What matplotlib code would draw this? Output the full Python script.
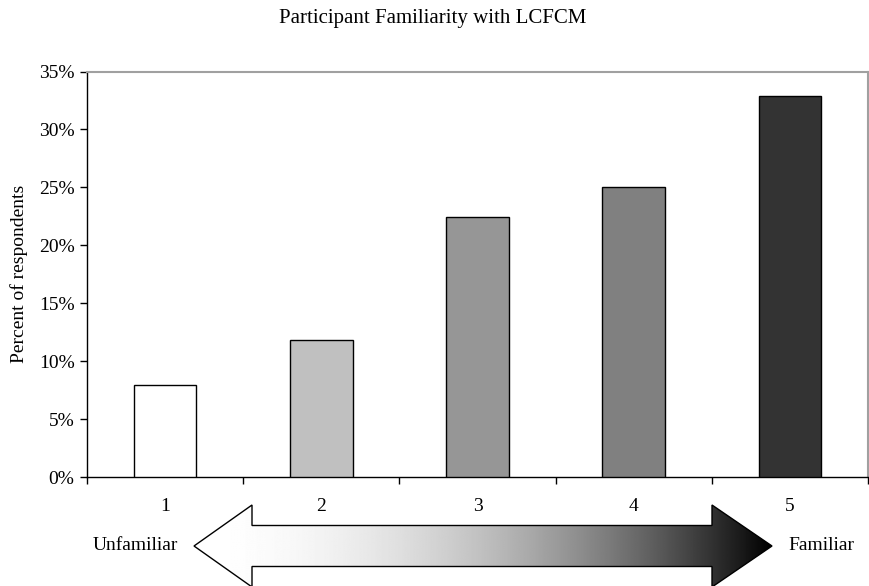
import matplotlib
matplotlib.use("Agg")
import matplotlib.pyplot as plt
import numpy as np
from matplotlib.patches import Polygon
from matplotlib.ticker import FuncFormatter, FixedLocator

categories = ["1", "2", "3", "4", "5"]
values = [7.9, 11.8, 22.4, 25.0, 32.9]
bar_colors = ["#ffffff", "#c0c0c0", "#969696", "#808080", "#333333"]
yticks = [0, 5, 10, 15, 20, 25, 30, 35]
title = "Participant Familiarity with LCFCM"
ylabel = "Percent of respondents"
left_label = "Unfamiliar"
right_label = "Familiar"

plt.rcParams['font.family'] = ['Liberation Serif', 'DejaVu Serif']

W, H = 870, 586
fig = plt.figure(figsize=(W / 100, H / 100), dpi=100)

# main axes in pixel layout
x0, x1 = 87, 868
ytop, ybot = 71.5, 477
ax = fig.add_axes([x0 / W, 1 - ybot / H, (x1 - x0) / W, (ybot - ytop) / H])

pos = np.arange(len(categories))
ax.bar(pos, values, width=0.4, color=bar_colors, edgecolor="black", linewidth=1.0, zorder=3)
ax.set_xlim(-0.5, len(categories) - 0.5)
ax.set_ylim(0, 35)
ax.set_yticks(yticks)
ax.yaxis.set_major_formatter(FuncFormatter(lambda v, p: f"{int(v)}%"))
ax.tick_params(axis='y', direction='out', length=5, width=1, labelsize=14, pad=4, colors='black')

# x: boundary ticks (major), labels at centers (minor)
ax.xaxis.set_major_locator(FixedLocator(np.arange(len(categories) + 1) - 0.5))
ax.xaxis.set_major_formatter(FuncFormatter(lambda v, p: ""))
ax.xaxis.set_minor_locator(FixedLocator(pos))
ax.set_xticklabels(categories, minor=True)
ax.tick_params(axis='x', which='major', direction='out', length=5, width=1)
ax.tick_params(axis='x', which='minor', length=0, labelsize=14, pad=15)

for s in ['left', 'bottom']:
    ax.spines[s].set_color('black')
    ax.spines[s].set_linewidth(1.0)
for s in ['top', 'right']:
    ax.spines[s].set_color('#a0a0a0')
    ax.spines[s].set_linewidth(1.5)

fig.text(433 / W, 1 - 19 / H, title, ha='center', va='center', fontsize=15)
fig.text(19.5 / W, 1 - 274 / H, ylabel, ha='center', va='center', rotation=90, fontsize=14)

# overlay axes for the gradient arrow, in pixel coordinates
ov = fig.add_axes([0, 0, 1, 1])
ov.set_xlim(0, W)
ov.set_ylim(H, 0)
ov.axis('off')
ov.patch.set_alpha(0)

cy = 546
pts = [(194, cy), (252, cy - 41), (252, cy - 20.5), (712, cy - 20.5), (712, cy - 41),
       (772, cy), (712, cy + 41), (712, cy + 20.5), (252, cy + 20.5), (252, cy + 41)]
t = np.linspace(0, 1, 600)
grad = 1 - t ** 2
img = np.tile(grad, (2, 1))
im = ov.imshow(img, cmap='gray', vmin=0, vmax=1, extent=(194, 772, cy + 42, cy - 42),
               aspect='auto', interpolation='bilinear', zorder=1)
poly = Polygon(pts, closed=True, facecolor='none', edgecolor='black', linewidth=1.0, zorder=2)
ov.add_patch(poly)
im.set_clip_path(poly)

ov.text(178, cy, left_label, ha='right', va='center', fontsize=14)
ov.text(788, cy, right_label, ha='left', va='center', fontsize=14)

fig.savefig("out.png", dpi=100)
